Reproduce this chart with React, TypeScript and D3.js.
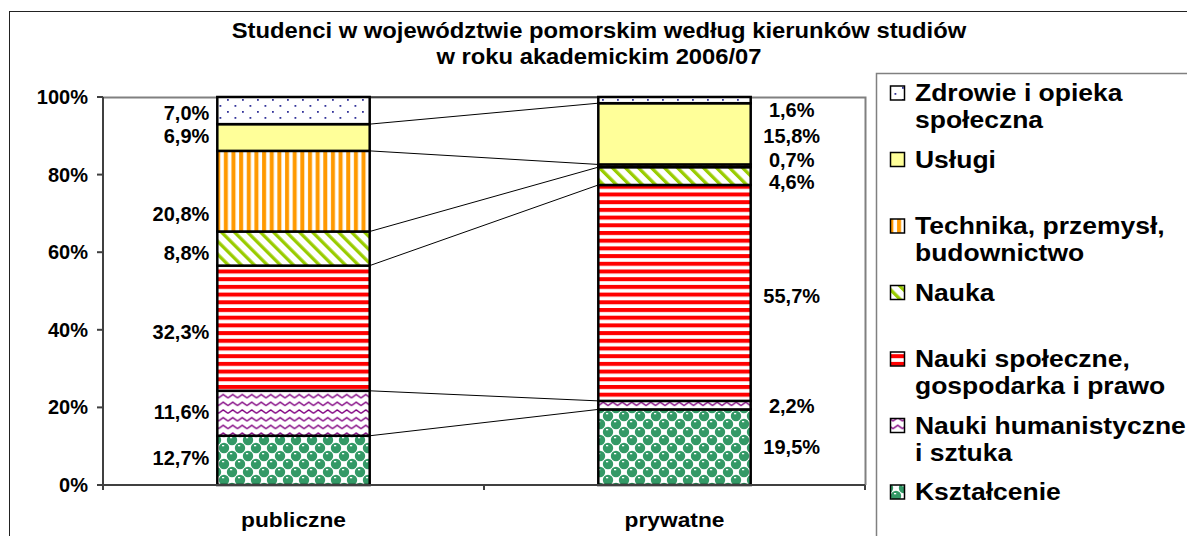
import React from "react";
import * as d3 from "d3";

const categories = ["publiczne", "prywatne"];
const seriesNames = [
  "Kształcenie",
  "Nauki humanistyczne i sztuka",
  "Nauki społeczne, gospodarka i prawo",
  "Nauka",
  "Technika, przemysł, budownictwo",
  "Usługi",
  "Zdrowie i opieka społeczna",
];
const publiczne = [12.7, 11.6, 32.3, 8.8, 20.8, 6.9, 7.0];
const prywatne = [19.5, 2.2, 55.7, 4.6, 0.7, 15.8, 1.6];
const legendLines = [
  ["Kształcenie"],
  ["Nauki humanistyczne", "i sztuka"],
  ["Nauki społeczne,", "gospodarka i prawo"],
  ["Nauka"],
  ["Technika, przemysł,", "budownictwo"],
  ["Usługi"],
  ["Zdrowie i opieka", "społeczna"],
];
const yTicks = [0, 0.2, 0.4, 0.6, 0.8, 1];
const titleLines = [
  "Studenci w województwie pomorskim według kierunków studiów",
  "w roku akademickim 2006/07",
];
// label anchor levels (percent of axis) as placed in the original
const publicLabelLevels = [7.0, 18.8, 39.4, 59.8, 69.8, 89.9, 96.0];
const privateLabelLevels = [9.8, 20.4, 48.7, 78.1, 83.8, 89.9, 96.6];

const W = 1187;
const H = 536;
const plot = { left: 103, right: 865, top: 97, bottom: 485 };
const FONT = "'Liberation Sans', Arial, Helvetica, sans-serif";

const patternIds = ["pKsz", "pHum", "pSpo", "pNau", "pTec", "pUsl", "pZdr"];

function StretchText(props: {
  x: number;
  y: number;
  sx: number;
  size: number;
  anchor?: string;
  children: any;
}) {
  return (
    <text
      transform={`translate(${props.x},${props.y}) scale(${props.sx},1)`}
      textAnchor={props.anchor || "start"}
      fontSize={props.size}
      fill="#000"
    >
      {props.children}
    </text>
  );
}

function Patterns() {
  return (
    <defs>
      <pattern id="pKsz" patternUnits="userSpaceOnUse" width={16} height={16}>
        <rect width={16} height={16} fill="#ffffff" />
        <circle cx={8} cy={8} r={5.2} fill="#339966" />
        <circle cx={0} cy={0} r={5.2} fill="#339966" />
        <circle cx={16} cy={0} r={5.2} fill="#339966" />
        <circle cx={0} cy={16} r={5.2} fill="#339966" />
        <circle cx={16} cy={16} r={5.2} fill="#339966" />
        <rect x={6} y={5} width={2.2} height={1.3} fill="#ffffff" />
        <rect x={14} y={13} width={2.2} height={1.3} fill="#ffffff" />
        <rect x={0} y={13} width={0.2} height={1.3} fill="#ffffff" />
      </pattern>
      <pattern id="pHum" patternUnits="userSpaceOnUse" width={9.5} height={7.7}>
        <rect width={9.5} height={7.7} fill="#ffffff" />
        <path d="M0,5.2 L4.75,1.8 L9.5,5.2" fill="none" stroke="#800080" strokeWidth={1.3} />
      </pattern>
      <pattern id="pSpo" patternUnits="userSpaceOnUse" width={10} height={7.7}>
        <rect width={10} height={7.7} fill="#ffffff" />
        <rect y={0} width={10} height={4} fill="#ff0000" />
      </pattern>
      <pattern
        id="pNau"
        patternUnits="userSpaceOnUse"
        width={9.2}
        height={10}
        patternTransform="rotate(-45)"
      >
        <rect width={9.2} height={10} fill="#ffffff" />
        <rect x={0} width={3.3} height={10} fill="#99cc00" />
      </pattern>
      <pattern id="pTec" patternUnits="userSpaceOnUse" width={7.65} height={10}>
        <rect width={7.65} height={10} fill="#ffffff" />
        <rect x={2} width={4} height={10} fill="#ff9900" />
      </pattern>
      <pattern id="pUsl" patternUnits="userSpaceOnUse" width={10} height={10}>
        <rect width={10} height={10} fill="#ffff99" />
      </pattern>
      <pattern id="pZdr" patternUnits="userSpaceOnUse" width={15} height={12}>
        <rect width={15} height={12} fill="#ffffff" />
        <rect x={2} y={3} width={1.8} height={1.8} fill="#333399" />
        <rect x={9.5} y={9} width={1.8} height={1.8} fill="#333399" />
      </pattern>
    </defs>
  );
}

export default function App() {
  const rows = categories.map((c, i) => {
    const r: any = { cat: c };
    seriesNames.forEach((s, k) => {
      r[s] = (i === 0 ? publiczne : prywatne)[k];
    });
    return r;
  });
  const stack = d3.stack<any>().keys(seriesNames).offset(d3.stackOffsetExpand);
  const layers = stack(rows);

  const x = d3
    .scaleBand()
    .domain(categories)
    .range([plot.left, plot.right])
    .paddingInner(0.6)
    .paddingOuter(0.3);
  const y = d3.scaleLinear().domain([0, 1]).range([plot.bottom, plot.top]);
  const yPct = d3.scaleLinear().domain([0, 100]).range([plot.bottom, plot.top]);
  const bw = x.bandwidth();
  const fmt = (v: number) => v.toFixed(1).replace(".", ",") + "%";
  const tickFmt = d3.format(".0%");

  const xTicks = [plot.left, (plot.left + plot.right) / 2, plot.right];

  const legendY = d3.scaleLinear().domain([6, 0]).range([101, 500]);

  return (
    <svg
      width={W}
      height={H}
      style={{ position: "absolute", left: 0, top: 0, display: "block", background: "#fff" }}
      fontFamily={FONT}
      fontWeight="bold"
    >
      <Patterns />
      <rect x={0} y={0} width={W} height={H} fill="#ffffff" />
      {/* outer chart border */}
      <rect x={9.5} y={11.5} width={W + 20} height={H + 20} fill="none" stroke="#222" strokeWidth={1} />

      {/* title */}
      {titleLines.map((t, i) => (
        <StretchText key={i} x={599} y={38 + i * 26} sx={1.107} size={21.5} anchor="middle">
          {t}
        </StretchText>
      ))}

      {/* plot area frame */}
      <rect x={plot.left} y={plot.top} width={plot.right - plot.left} height={plot.bottom - plot.top} fill="#fff" />
      <path
        d={`M${plot.left},${plot.top + 0.5}H${plot.right + 0.5}V${plot.bottom}`}
        fill="none"
        stroke="#808080"
        strokeWidth={2}
      />

      {/* series lines */}
      {layers.map((layer, k) => (
        <line
          key={"sl" + k}
          x1={(x(categories[0]) as number) + bw}
          y1={y(layer[0][1])}
          x2={x(categories[1]) as number}
          y2={y(layer[1][1])}
          stroke="#000"
          strokeWidth={1}
        />
      ))}

      {/* bars */}
      {layers.map((layer, k) =>
        layer.map((d, i) => (
          <rect
            key={"b" + k + "-" + i}
            x={x(categories[i]) as number}
            y={y(d[1])}
            width={bw}
            height={y(d[0]) - y(d[1])}
            fill={`url(#${patternIds[k]})`}
            stroke="#000"
            strokeWidth={2.5}
          />
        ))
      )}

      {/* y axis */}
      <line x1={plot.left} y1={plot.top} x2={plot.left} y2={plot.bottom} stroke="#404040" strokeWidth={2} />
      {yTicks.map((t) => (
        <g key={"yt" + t}>
          <line x1={plot.left - 6} x2={plot.left} y1={y(t)} y2={y(t)} stroke="#404040" strokeWidth={2} />
          <text x={88} y={y(t)} dy="0.35em" textAnchor="end" fontSize={20} fill="#000">
            {tickFmt(t)}
          </text>
        </g>
      ))}

      {/* x axis */}
      <line x1={plot.left} y1={plot.bottom} x2={plot.right} y2={plot.bottom} stroke="#404040" strokeWidth={2} />
      {xTicks.map((t, i) => (
        <line key={"xt" + i} x1={t} x2={t} y1={plot.bottom} y2={plot.bottom + 5} stroke="#404040" strokeWidth={2} />
      ))}
      {categories.map((c) => (
        <StretchText key={c} x={(x(c) as number) + bw / 2} y={527} sx={1.084} size={21} anchor="middle">
          {c}
        </StretchText>
      ))}

      {/* data labels */}
      {publiczne.map((v, k) => (
        <text
          key={"lp" + k}
          x={(x(categories[0]) as number) - 8}
          y={yPct(publicLabelLevels[k])}
          dy="0.35em"
          textAnchor="end"
          fontSize={20}
          fill="#000"
        >
          {fmt(v)}
        </text>
      ))}
      {prywatne.map((v, k) => (
        <text
          key={"lr" + k}
          x={(x(categories[1]) as number) + bw + 41}
          y={yPct(privateLabelLevels[k])}
          dy="0.35em"
          textAnchor="middle"
          fontSize={20}
          fill="#000"
        >
          {fmt(v)}
        </text>
      ))}

      {/* legend */}
      <rect x={876.5} y={73.5} width={400} height={500} fill="#fff" stroke="#808080" strokeWidth={1.5} />
      {legendLines.map((lines, k) => {
        const by = legendY(k);
        return (
          <g key={"lg" + k}>
            <rect
              x={890.5}
              y={by - 15}
              width={14}
              height={14}
              fill={`url(#${patternIds[k]})`}
              stroke="#000"
              strokeWidth={1.5}
            />
            {lines.map((ln, j) => (
              <StretchText key={j} x={915} y={by + j * 27} sx={1.104} size={24}>
                {ln}
              </StretchText>
            ))}
          </g>
        );
      })}
    </svg>
  );
}
